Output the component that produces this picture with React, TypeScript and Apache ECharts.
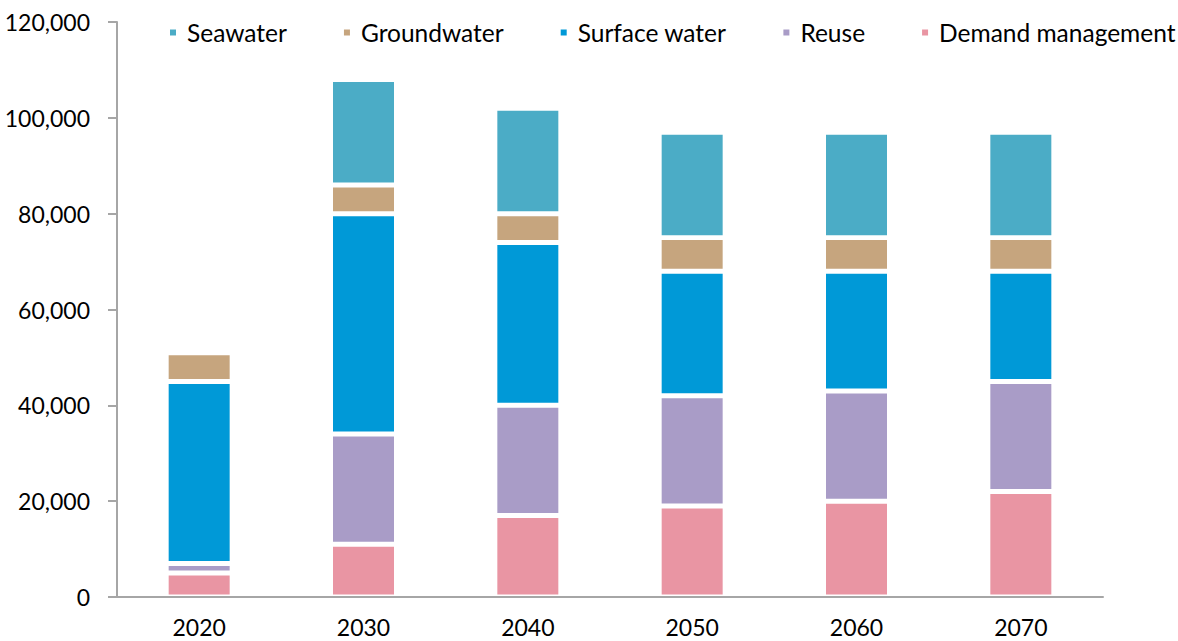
import React, { useEffect, useRef } from "react";
import * as echarts from "echarts";

const years = ["2020", "2030", "2040", "2050", "2060", "2070"];
const demandManagement = [5000, 11000, 17000, 19000, 20000, 22000];
const reuse = [2000, 23000, 23000, 23000, 23000, 23000];
const surfaceWater = [38000, 46000, 34000, 26000, 25000, 23000];
const groundwater = [6000, 6000, 6000, 7000, 7000, 7000];
const seawater = [0, 22000, 22000, 22000, 22000, 22000];
const legendOrder = ["Seawater", "Groundwater", "Surface water", "Reuse", "Demand management"];

const FONT = "Lato";

export default function App() {
  const ref = useRef<HTMLDivElement>(null);
  useEffect(() => {
    if (!ref.current) return;
    const chart = echarts.init(ref.current, null, { renderer: "svg" });
    const mk = (name: string, data: number[], color: string) => ({
      name,
      type: "bar",
      stack: "total",
      data,
      barWidth: 66,
      itemStyle: { color, borderColor: "#ffffff", borderWidth: 2.5 },
    });
    chart.setOption({
      animation: false,
      grid: { left: 117, right: 75, top: 22, bottom: 44 },
      legend: {
        data: legendOrder,
        left: 168,
        top: 20,
        width: 1008,
        padding: 0,
        icon: "rect",
        itemWidth: 8,
        itemHeight: 8,
        itemGap: 55,
        textStyle: { fontFamily: FONT, fontSize: 24.5, color: "#000", padding: [0, 0, 0, 5] },
      },
      xAxis: {
        type: "category",
        data: years,
        z: 10,
        axisLine: { lineStyle: { color: "#a6a6a6", width: 2 } },
        axisTick: { show: false },
        axisLabel: { fontFamily: FONT, fontSize: 23, color: "#000", margin: 18 },
      },
      yAxis: {
        type: "value",
        min: 0,
        max: 120000,
        interval: 20000,
        z: 10,
        axisLine: { show: true, lineStyle: { color: "#a6a6a6", width: 2 } },
        axisTick: { show: true, length: 9, lineStyle: { color: "#a6a6a6", width: 2 } },
        splitLine: { show: false },
        axisLabel: {
          fontFamily: FONT,
          fontSize: 23,
          color: "#000",
          margin: 27,
          formatter: (v: number) => v.toLocaleString("en-US"),
        },
      },
      series: [
        mk("Demand management", demandManagement, "#e995a3"),
        mk("Reuse", reuse, "#a99cc7"),
        mk("Surface water", surfaceWater, "#0099d7"),
        mk("Groundwater", groundwater, "#c6a57e"),
        mk("Seawater", seawater, "#4bacc6"),
      ],
    });
    return () => chart.dispose();
  }, []);
  return (
    <div
      ref={ref}
      style={{ position: "absolute", left: 0, top: 0, width: 1178, height: 641 }}
    />
  );
}
